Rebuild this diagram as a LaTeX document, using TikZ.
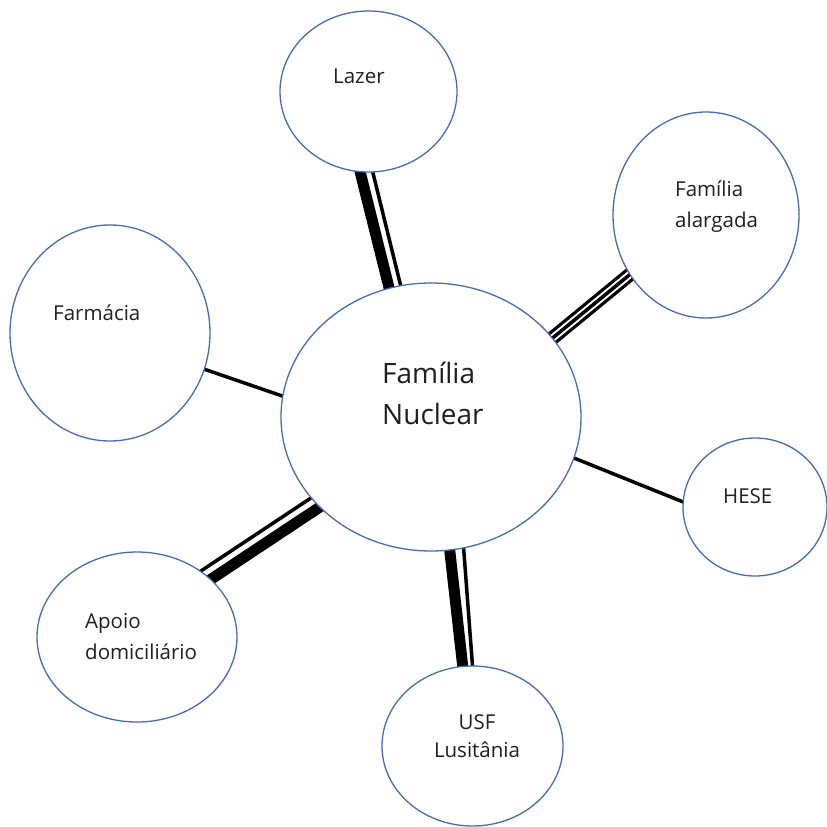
\documentclass[tikz,border=0pt]{standalone}
\usepackage{fontspec}
\setmainfont{Open Sans}
\usetikzlibrary{shapes.geometric}
\definecolor{ringblue}{RGB}{72,108,180}
\tikzstyle{bubble} = [
  ellipse,
  draw=ringblue,
  line width=1.3pt,
  fill=white,
  inner sep=0pt,
  outer sep=0pt
]
\tikzstyle{caption} = [
  inner sep=0pt,
  align=left,
  text=black!88,
  font=\fontsize{20.5}{31}\selectfont
]
\tikzstyle{heavy} = [line width=11pt, shorten <=-4pt, shorten >=-4pt]
\tikzstyle{light} = [line width=3.5pt, shorten <=-4pt, shorten >=-4pt]
\tikzstyle{triple} = [double=white, double distance=7.5pt, line width=3.25pt, shorten <=-4pt, shorten >=-4pt]
\tikzstyle{triple-core} = [line width=3.5pt, shorten <=-4pt, shorten >=-4pt]
\pgfdeclarelayer{background}
\pgfsetlayers{background,main}

\begin{document}
\begin{tikzpicture}[x=1pt, y=-1pt]
    \useasboundingbox (0,0) rectangle (827,827);
    \node (family-nuclear) [bubble, minimum width=300pt, minimum height=268pt] at (431,417) {};
    \node (lazer) [bubble, minimum width=177pt, minimum height=161pt] at (368.5,91.5) {};
    \node (family-wide) [bubble, minimum width=186pt, minimum height=206pt] at (706,215) {};
    \node (pharmacy) [bubble, minimum width=200pt, minimum height=216pt] at (110,333) {};
    \node (hese) [bubble, minimum width=144pt, minimum height=138pt] at (755,507) {};
    \node (home-care) [bubble, minimum width=200pt, minimum height=170pt] at (137,637) {};
    \node (usf) [bubble, minimum width=181pt, minimum height=160pt] at (472.5,746) {};

    % base of a two-line caption is its last line
    \node (family-nuclear-text) [caption, anchor=base west, font=\fontsize{28}{41}\selectfont] at (382,424) {Família\\Nuclear};
    \node (lazer-text) [caption, anchor=base west] at (333,83) {Lazer};
    \node (family-wide-text) [caption, anchor=base west] at (675,227) {Família\\alargada};
    \node (pharmacy-text) [caption, anchor=base west] at (53,320.5) {Farmácia};
    \node (hese-text) [caption, anchor=base west] at (723,503) {HESE};
    \node (home-care-text) [caption, anchor=base west] at (85,659) {Apoio\\domiciliário};
    \node (usf-text) [caption, anchor=base, align=center, font=\fontsize{20.5}{28}\selectfont] at (477,757) {USF\\Lusitânia};

    \begin{pgfonlayer}{background}
    \draw [heavy] (lazer.264) -- (family-nuclear.108);
    \draw [light] (lazer.273) -- (family-nuclear.103);
    \draw [triple] (family-nuclear.33) -- (family-wide.218);
    \draw [triple-core] (family-nuclear.33) -- (family-wide.218);
    \draw [light] (pharmacy.339) -- (family-nuclear.172);
    \draw [light] (family-nuclear.344) -- (hese.176);
    \draw [light] (home-care.46) -- (family-nuclear.214);
    \draw [heavy] (home-care.38) -- (family-nuclear.219);
    \draw [heavy] (family-nuclear.278) -- (usf.97);
    \draw [light] (family-nuclear.284) -- (usf.90);
    \end{pgfonlayer}
\end{tikzpicture}
\end{document}
